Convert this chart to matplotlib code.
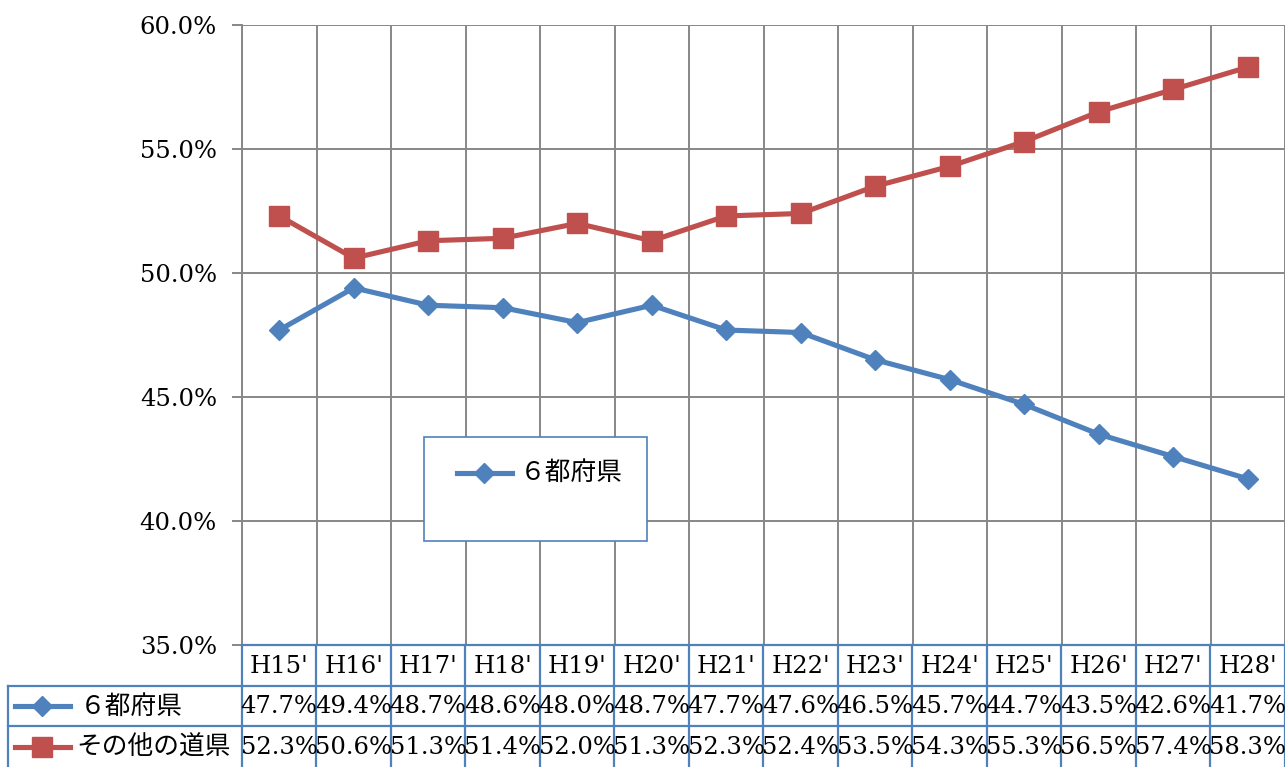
import matplotlib
matplotlib.use("Agg")
import matplotlib.pyplot as plt
from matplotlib.lines import Line2D
from matplotlib.patches import Rectangle
from matplotlib.ticker import FuncFormatter

years = ["H15'", "H16'", "H17'", "H18'", "H19'", "H20'", "H21'",
         "H22'", "H23'", "H24'", "H25'", "H26'", "H27'", "H28'"]
six_pref = [47.7, 49.4, 48.7, 48.6, 48.0, 48.7, 47.7,
            47.6, 46.5, 45.7, 44.7, 43.5, 42.6, 41.7]
other_pref = [52.3, 50.6, 51.3, 51.4, 52.0, 51.3, 52.3,
              52.4, 53.5, 54.3, 55.3, 56.5, 57.4, 58.3]
series_names = ["６都府県", "その他の道県"]

BLUE = "#4F81BD"
RED = "#C0504D"
GRID = "#878787"
SERIF = "DejaVu Serif"
JP = ["Noto Sans CJK JP", "DejaVu Sans"]
FS = 17.5

W, H = 1285, 767
fig = plt.figure(figsize=(W / 100, H / 100), dpi=100)

# plot area in pixels
x0, x1, ytop, ybot = 242, 1285, 25, 645
ax = fig.add_axes([x0 / W, (H - ybot) / H, (x1 - x0) / W, (ybot - ytop) / H])
n = len(years)
xs = list(range(n))

ax.plot(xs, six_pref, color=BLUE, lw=3.7, marker="D", ms=10, zorder=3)
ax.plot(xs, other_pref, color=RED, lw=3.7, marker="s", ms=14, zorder=3)

ax.set_xlim(-0.5, n - 0.5)
ax.set_ylim(35, 60)
ax.set_yticks([35, 40, 45, 50, 55, 60])
ax.yaxis.set_major_formatter(FuncFormatter(lambda v, p: f"{v:.1f}%"))
ax.set_xticks([])
ax.set_xticks([i - 0.5 for i in range(n + 1)], minor=True)
ax.tick_params(axis="x", which="both", length=0)
ax.tick_params(axis="y", length=7, width=1.4, color=GRID, pad=11,
               labelsize=FS)
for lab in ax.get_yticklabels():
    lab.set_fontfamily(SERIF)
ax.grid(axis="y", which="major", color=GRID, lw=1.4)
ax.grid(axis="x", which="minor", color=GRID, lw=1.4)
ax.set_axisbelow(True)
for s in ["top", "right", "bottom"]:
    ax.spines[s].set_visible(False)
ax.spines["left"].set_color(GRID)
ax.spines["left"].set_linewidth(1.4)

# in-plot legend (only the first series, as in the original)
fig.patches.append(Rectangle((424 / W, 1 - 541 / H), 223 / W, 104 / H,
                             transform=fig.transFigure, fill=True,
                             facecolor="white", edgecolor=BLUE, lw=1.2,
                             zorder=5))
ly = 1 - 473 / H
fig.lines.append(Line2D([457 / W, 512 / W], [ly, ly], transform=fig.transFigure,
                        color=BLUE, lw=3.7, zorder=6))
fig.lines.append(Line2D([484 / W], [ly], transform=fig.transFigure, color=BLUE,
                        marker="D", ms=10, zorder=6))
fig.text(520 / W, ly, "６都府県", family=JP, fontsize=18.5, va="center",
         ha="left", zorder=7)

# data table below the plot
tx0 = 8
unit = (x1 - x0) / n
left_u = -0.5 - (x0 - tx0) / unit
tab = fig.add_axes([tx0 / W, 0, (x1 - tx0) / W, (H - ybot) / H])
tab.set_xlim(left_u, n - 0.5)
tab.set_ylim(3, 0)
tab.axis("off")


def px(p):
    return -0.5 + (p - x0) / unit


lw_t = 1.6
tab.plot([-0.5, n - 0.5], [0, 0], color=BLUE, lw=lw_t, clip_on=False)
for r in (1, 2):
    tab.plot([left_u, n - 0.5], [r, r], color=BLUE, lw=lw_t, clip_on=False)
tab.plot([left_u, left_u], [1, 3], color=BLUE, lw=lw_t, clip_on=False)
for i in range(n + 1):
    tab.plot([i - 0.5, i - 0.5], [0, 3], color=BLUE, lw=lw_t, clip_on=False)

for i, y in enumerate(years):
    tab.text(i, 0.52, y, ha="center", va="center", family=SERIF, fontsize=FS)
for i, (a, b) in enumerate(zip(six_pref, other_pref)):
    tab.text(i, 1.52, f"{a:.1f}%", ha="center", va="center", family=SERIF,
             fontsize=FS)
    tab.text(i, 2.52, f"{b:.1f}%", ha="center", va="center", family=SERIF,
             fontsize=FS)

# legend keys in the table
for r, (col, mk, ms, name, tx) in enumerate(
        [(BLUE, "D", 10, series_names[0], 80),
         (RED, "s", 14, series_names[1], 76)]):
    yy = 1.5 + r
    tab.plot([px(15), px(70)], [yy, yy], color=col, lw=3.7, clip_on=False)
    tab.plot([px(42)], [yy], color=col, marker=mk, ms=ms, clip_on=False)
    tab.text(px(tx), yy + 0.02, name, family=JP, fontsize=18.5, ha="left",
             va="center")

fig.savefig("out.png", dpi=100)
